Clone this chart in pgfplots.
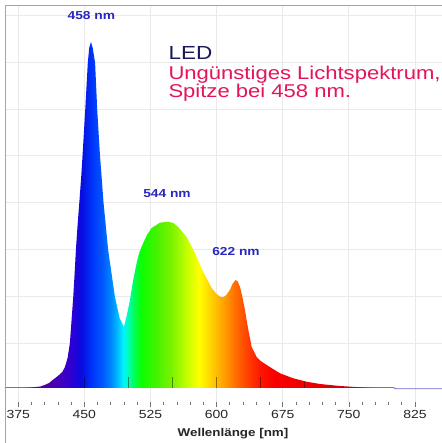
\documentclass[border=0pt]{standalone}
\usepackage{pgfplots}
\pgfplotsset{compat=1.18}
\usepackage{fontspec}
\setmainfont{Liberation Sans}
\usepackage{graphicx}

\definecolor{gridgray}{RGB}{234,234,234}
\definecolor{framegray}{RGB}{165,165,165}
\definecolor{peakblue}{RGB}{40,40,190}
\definecolor{navy}{RGB}{25,25,90}
\definecolor{crimson}{RGB}{228,20,92}
\definecolor{baseblue}{RGB}{110,110,210}

% slightly widened lettering
\newcommand\sx[1]{\scalebox{1.19}[1]{#1}}

% spectral colours across the filled area (381 nm at 25bp, 778 nm at 75bp)
\pgfdeclarehorizontalshading{spectrum}{100bp}{
 rgb(0bp)=(0.30,0.02,0.50);
 rgb(25bp)=(0.30,0.02,0.50);
 rgb(27.39bp)=(0.32,0.0,0.60);
 rgb(29.91bp)=(0.28,0.0,0.72);
 rgb(32.05bp)=(0.16,0.0,0.84);
 rgb(33.31bp)=(0.03,0.05,0.88);
 rgb(34.70bp)=(0.0,0.2,0.98);
 rgb(36.21bp)=(0.0,0.34,1.0);
 rgb(37.47bp)=(0.0,0.52,1.0);
 rgb(38.48bp)=(0.0,0.75,1.0);
 rgb(39.23bp)=(0.0,0.95,1.0);
 rgb(39.99bp)=(0.0,1.0,0.7);
 rgb(40.87bp)=(0.0,1.0,0.3);
 rgb(41.88bp)=(0.05,1.0,0.0);
 rgb(43.77bp)=(0.25,0.95,0.0);
 rgb(46.28bp)=(0.5,0.95,0.0);
 rgb(48.17bp)=(0.75,1.0,0.0);
 rgb(50.06bp)=(1.0,1.0,0.0);
 rgb(51.95bp)=(1.0,0.8,0.0);
 rgb(53.84bp)=(1.0,0.6,0.0);
 rgb(55.35bp)=(1.0,0.42,0.0);
 rgb(56.99bp)=(1.0,0.25,0.0);
 rgb(58.88bp)=(1.0,0.08,0.0);
 rgb(60.77bp)=(0.98,0.0,0.0);
 rgb(67.70bp)=(0.9,0.0,0.0);
 rgb(72.73bp)=(0.75,0.0,0.08);
 rgb(75bp)=(0.6,0.0,0.15);
 rgb(100bp)=(0.6,0.0,0.15)}

\begin{document}
\begin{tikzpicture}
\useasboundingbox (0,0) rectangle (442bp,443bp);
\fill[white] (0,0) rectangle (442bp,443bp);
\begin{axis}[
  at={(5bp,41bp)}, anchor=south west,
  scale only axis, width=437.3bp, height=397bp,
  xmin=360, xmax=856, ymin=-14, ymax=383,
  axis line style={draw=none},
  xtick={375,450,525,600,675,750,825},
  xticklabels={\sx{375},\sx{450},\sx{525},\sx{600},\sx{675},\sx{750},\sx{825}},
  minor x tick num=4,
  xtick pos=lower, tick align=outside,
  major tick length=5bp, minor tick length=3bp,
  every tick/.style={black!55, line width=0.7bp},
  xticklabel style={font=\fontsize{11.8}{12}\selectfont, text=black!85},
  ytick={45,91.8,138.6,185.4,232.2,279,325.8,372.6},
  yticklabels={}, ytick style={draw=none},
  xmajorgrids, ymajorgrids,
  major grid style={gridgray, line width=0.8bp},
  clip=true,
]
% thin base line of the measurement
\addplot[baseblue, line width=0.9bp, no markers] coordinates {
  (360,0.5) (800,0.5) (804,-0.8) (856,-0.8)};
% spectral intensity
\addplot[draw=none, shading=spectrum, shading angle=0] coordinates {
  (381,0) (390,0.5) (400,1.5) (405,3) (410,5) (414,8) (420,12) (425,16)
  (428,21) (431,30) (433.6,45) (435.5,68) (437.4,91) (439,115) (440.4,138)
  (442.5,165) (444.5,188) (446.5,212) (448,233) (451,278) (453.9,325)
  (455.5,340) (457.5,346) (459.5,340) (462.2,325) (464.6,278) (467.7,233)
  (471.8,185) (477,138) (484.7,91) (490,70) (494.9,61)
  (498,72) (501.7,88) (505,106) (509.3,125) (512.5,136) (516.8,145) (521,153)
  (526.3,160) (535.7,165.3) (545,166.3) (551,165) (556.5,161) (566,151)
  (575.4,135) (584.8,116) (594.4,100) (600,94) (604,91.3) (607.5,90.7)
  (611,93) (615,98) (618,104) (621.5,108) (624,106.5) (626.5,101) (629,92)
  (632.2,78) (634,68) (636,58) (639.8,41) (645.4,31) (650,27) (656.8,23)
  (664,19) (671.9,14.7) (686.9,9.7) (702,6.3) (717.2,4) (739.9,2)
  (762.6,0.7) (778,0)} \closedcycle;
% scale marks inside the spectrum
\addplot[ycomb, black, opacity=0.45, line width=0.8bp, no markers] coordinates {
  (450,11) (500,11) (550,11) (600,11) (650,11) (700,6)};
% peak labels
\node[font=\bfseries\fontsize{11.6}{12}\selectfont, text=peakblue] at (axis cs:458,372) {\sx{458 nm}};
\node[font=\bfseries\fontsize{11.6}{12}\selectfont, text=peakblue] at (axis cs:543.7,194) {\sx{544 nm}};
\node[font=\bfseries\fontsize{11.6}{12}\selectfont, text=peakblue] at (axis cs:622,136) {\sx{622 nm}};
% x axis line
\draw[black!45, line width=0.7bp] (rel axis cs:0,0) -- (rel axis cs:1,0);
\end{axis}
% outer frame
\draw[framegray, line width=0.9bp] (5bp,-1bp) -- (5bp,438bp) -- (443bp,438bp);
% axis title
\node[anchor=base, inner sep=0, font=\bfseries\fontsize{11.3}{12}\selectfont, text=black!85] at (233bp,7bp) {\sx{Wellenlänge [nm]}};
% caption text
\node[anchor=base west, inner sep=0, text=navy, font=\fontsize{19}{20}\selectfont] at (168.3bp,383.7bp) {\sx{LED}};
\node[anchor=base west, inner sep=0, text=crimson, font=\fontsize{18.6}{20}\selectfont] at (168.3bp,363.7bp) {\sx{Ungünstiges Lichtspektrum,}};
\node[anchor=base west, inner sep=0, text=crimson, font=\fontsize{18.6}{20}\selectfont] at (168.3bp,345bp) {\sx{Spitze bei 458 nm.}};
\end{tikzpicture}
\end{document}
